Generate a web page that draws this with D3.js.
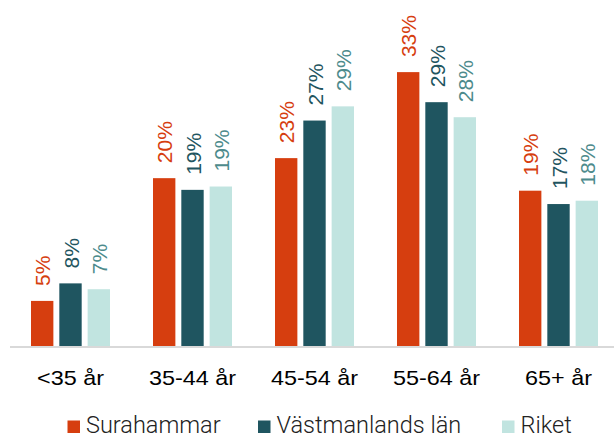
<!DOCTYPE html>
<html><head><meta charset="utf-8">
<script src="https://cdn.jsdelivr.net/npm/d3@7"></script>
<style>html,body{margin:0;padding:0;background:#fff;}svg{display:block;}</style>
</head><body>
<script>
const categories = ["<35 år", "35-44 år", "45-54 år", "55-64 år", "65+ år"];
const seriesNames = ["Surahammar", "Västmanlands län", "Riket"];
const surahammar = [5.4, 20.1, 22.5, 32.8, 18.6];
const vastmanland = [7.5, 18.7, 27.0, 29.2, 17.0];
const riket = [6.8, 19.1, 28.7, 27.4, 17.4];
const labelSurahammar = ["5%", "20%", "23%", "33%", "19%"];
const labelVastmanland = ["8%", "19%", "27%", "29%", "17%"];
const labelRiket = ["7%", "19%", "29%", "28%", "18%"];

const barColors = ["#D63E0F", "#1F5560", "#C1E4E0"];
const labelColors = ["#D63E0F", "#1F5560", "#4D8B8C"];

const W = 614, H = 437;
const svg = d3.select("body").append("svg").attr("width", W).attr("height", H);

const series = [
  {name: seriesNames[0], values: surahammar, labels: labelSurahammar},
  {name: seriesNames[1], values: vastmanland, labels: labelVastmanland},
  {name: seriesNames[2], values: riket, labels: labelRiket}
];

const x0 = d3.scaleBand().domain(categories).range([9.5, 619.5]).padding(0);
const x1 = d3.scaleBand().domain(seriesNames).range([21.5, 100.5]).paddingInner(0.21).paddingOuter(0);
const y = d3.scaleLinear().domain([0, 40]).range([346, 12]);
const color = d3.scaleOrdinal().domain(seriesNames).range(barColors);
const lcolor = d3.scaleOrdinal().domain(seriesNames).range(labelColors);

// axis baseline
svg.append("line").attr("x1", 10).attr("x2", W).attr("y1", y(0) + 1).attr("y2", y(0) + 1)
  .attr("stroke", "#D9D9D9").attr("stroke-width", 2);

const groups = svg.selectAll("g.grp").data(categories).enter().append("g")
  .attr("class", "grp").attr("transform", d => `translate(${x0(d)},0)`);

groups.each(function(cat, i) {
  const g = d3.select(this);
  series.forEach(s => {
    const v = s.values[i];
    g.append("rect")
      .attr("x", x1(s.name)).attr("width", x1.bandwidth())
      .attr("y", y(v)).attr("height", y(0) - y(v))
      .attr("fill", color(s.name));
    const cx = x1(s.name) + x1.bandwidth() / 2 + 8;
    const ty = y(v) - 15;
    g.append("text")
      .attr("transform", `translate(${cx},${ty}) rotate(-90)`)
      .attr("text-anchor", "start")
      .attr("font-family", "Liberation Sans, Arial, sans-serif")
      .attr("font-size", 21)
      .attr("fill", lcolor(s.name))
      .text(s.labels[i]);
  });
});

// category labels
svg.append("g").selectAll("text").data(categories).enter().append("text")
  .attr("transform", d => `translate(${x0(d) + x0.bandwidth() / 2},385) scale(1.17,1)`)
  .attr("text-anchor", "middle")
  .attr("font-family", "Liberation Sans, Arial, sans-serif")
  .attr("font-size", 20)
  .attr("fill", "#000")
  .text(d => d);

// legend
const legendX = [67.5, 258, 502];
const leg = svg.append("g").selectAll("g").data(seriesNames).enter().append("g")
  .attr("transform", (d, i) => `translate(${legendX[i]},0)`);
leg.append("rect").attr("x", 0).attr("y", 420.5).attr("width", 12.5).attr("height", 12.5)
  .attr("fill", d => color(d));
leg.append("text").attr("x", 18.5).attr("y", 432.5)
  .attr("font-family", "Roboto, sans-serif").attr("font-weight", 300)
  .attr("font-size", 23.5).attr("fill", "#222")
  .text(d => d);
</script>
</body></html>
